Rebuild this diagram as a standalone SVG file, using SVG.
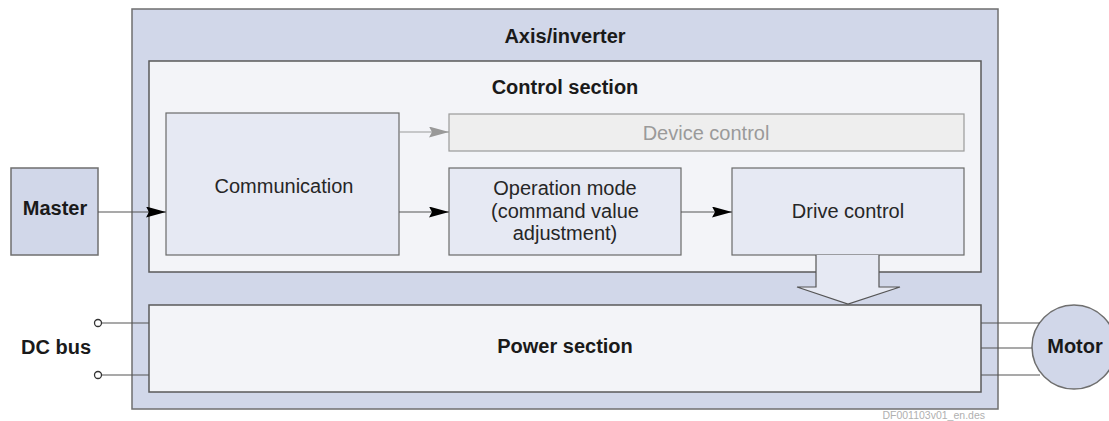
<svg xmlns="http://www.w3.org/2000/svg" width="1109" height="421" viewBox="0 0 1109 421">
  <style>
    text { font-family: "Liberation Sans", Arial, sans-serif; fill: #1a1a1a; }
    .title { font-size: 20px; font-weight: bold; text-anchor: middle; }
    .label { font-size: 20px; text-anchor: middle; fill: #262626; }
    .frame { fill: #d1d7e9; stroke: #6f6f6f; stroke-width: 1.5; }
    .section { fill: #f3f4f8; stroke: #5a5a5a; stroke-width: 1.5; }
    .block { fill: #e6e9f3; stroke: #6a6a6a; stroke-width: 1.2; }
    .muted { fill: #eeeeee; stroke: #9a9a9a; stroke-width: 1.2; }
    .wire { stroke: #555; stroke-width: 1.2; fill: none; }
    .flow { stroke: #555; stroke-width: 1.2; fill: none; marker-end: url(#arrow); }
    .flow-muted { stroke: #999; stroke-width: 1.2; fill: none; marker-end: url(#arrow-muted); }
  </style>
  <defs>
    <marker id="arrow" viewBox="0 0 20 11" refX="20" refY="5.5" markerWidth="20" markerHeight="11" markerUnits="userSpaceOnUse" orient="auto">
      <path d="M0,0 L20,5.5 L0,11 L3,5.5 Z" fill="#000"/>
    </marker>
    <marker id="arrow-muted" viewBox="0 0 20 11" refX="20" refY="5.5" markerWidth="20" markerHeight="11" markerUnits="userSpaceOnUse" orient="auto">
      <path d="M0,0 L20,5.5 L0,11 L3,5.5 Z" fill="#999"/>
    </marker>
  </defs>

  <!-- Axis/inverter housing -->
  <g id="axis-inverter">
    <rect class="frame" x="132" y="9" width="866" height="400"/>
    <text class="title" x="565" y="43">Axis/inverter</text>
  </g>

  <!-- Control section -->
  <g id="control-section">
    <rect class="section" x="149" y="61" width="832" height="211"/>
    <text class="title" x="565" y="94">Control section</text>
  </g>

  <g id="communication">
    <rect class="block" x="166" y="113" width="233" height="142"/>
    <text class="label" x="284" y="193">Communication</text>
  </g>

  <g id="device-control">
    <rect class="muted" x="449" y="114" width="515" height="37"/>
    <text class="label" x="706" y="140" style="fill:#9a9a9a">Device control</text>
  </g>

  <g id="operation-mode">
    <rect class="block" x="449" y="168" width="232" height="87"/>
    <text class="label" x="565" y="195">Operation mode</text>
    <text class="label" x="565" y="218">(command value</text>
    <text class="label" x="565" y="240">adjustment)</text>
  </g>

  <g id="drive-control">
    <rect class="block" x="732" y="168" width="232" height="87"/>
    <text class="label" x="848" y="218">Drive control</text>
  </g>

  <!-- Power section -->
  <g id="power-section">
    <rect class="section" x="149" y="305" width="832" height="87"/>
    <text class="title" x="565" y="353">Power section</text>
  </g>

  <g id="master">
    <rect class="frame" x="11" y="168" width="87" height="87"/>
    <text class="title" x="55" y="215">Master</text>
  </g>

  <g id="motor">
    <circle class="frame" cx="1074" cy="347" r="42"/>
    <text class="title" x="1075" y="353">Motor</text>
  </g>

  <g id="dc-bus">
    <text class="title" x="56" y="354">DC bus</text>
  </g>

  <!-- Connectors -->
  <g id="connectors">
    <line class="flow" x1="98" y1="212" x2="166" y2="212"/>
    <line class="flow-muted" x1="399" y1="132" x2="449" y2="132"/>
    <line class="flow" x1="399" y1="212" x2="449" y2="212"/>
    <line class="flow" x1="681" y1="212" x2="732" y2="212"/>

    <!-- hollow arrow from drive control into power section -->
    <path d="M816,255 L816,287 L797,287 L848,304 L900,287 L879,287 L879,255" fill="#e6e9f3" stroke="#555" stroke-width="1.2"/>

    <!-- DC bus terminals -->
    <line class="wire" x1="102" y1="323" x2="149" y2="323"/>
    <line class="wire" x1="102" y1="375" x2="149" y2="375"/>
    <circle cx="98" cy="323" r="3.5" fill="#fff" stroke="#333" stroke-width="1.3"/>
    <circle cx="98" cy="375" r="3.5" fill="#fff" stroke="#333" stroke-width="1.3"/>

    <!-- motor phases -->
    <line class="wire" x1="981" y1="323" x2="1040" y2="323"/>
    <line class="wire" x1="981" y1="348" x2="1032" y2="348"/>
    <line class="wire" x1="981" y1="375" x2="1040" y2="375"/>
  </g>

  <text x="985" y="419" style="font-size:10.5px; fill:#b0b0b0; text-anchor:end">DF001103v01_en.des</text>
</svg>
